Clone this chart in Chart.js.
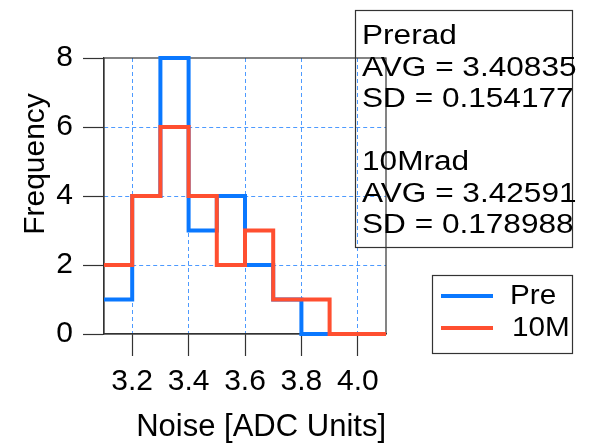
<!DOCTYPE html>
<html>
<head>
<meta charset="utf-8">
<script src="https://cdn.jsdelivr.net/npm/chart.js@4.4.1/dist/chart.umd.min.js"></script>
<style>
  html, body { margin: 0; padding: 0; background: #fff; }
  #wrap { width: 592px; height: 447px; }
</style>
</head>
<body>
<div id="wrap"><canvas id="noise-hist" width="592" height="447"></canvas></div>
<script>
// histogram bins (edges) and counts per bin
var binEdges = [3.1, 3.2, 3.3, 3.4, 3.5, 3.6, 3.7, 3.8, 3.9, 4.0, 4.1];
var preCounts = [1, 4, 8, 3, 4, 2, 1, 0, 0, 0];
var radCounts = [2, 4, 6, 4, 2, 3, 1, 1, 0, 0];
var xTicks = [3.2, 3.4, 3.6, 3.8, 4.0];
var yTicks = [0, 2, 4, 6, 8];
var seriesNames = ['Pre', '10M'];
var statLines = ['Prerad', 'AVG = 3.40835', 'SD = 0.154177', '', '10Mrad', 'AVG = 3.42591', 'SD = 0.178988'];

var FONT = '"Liberation Sans", Arial, Helvetica, sans-serif';
var blue = '#0a78ff';
var red = '#ff4f30';
var frameColor = '#333';
var gridBlue = '#4d9aff';

function stepPoints(counts){
    var pts = [];
    for (var i = 0; i < counts.length; i++) {
        pts.push({x: binEdges[i], y: counts[i]});
    }
    pts.push({x: binEdges[binEdges.length - 1], y: counts[counts.length - 1]});
    return pts;
}

// text a bit wider than the font, like the original
function wideText(ctx, text, x, y, sx){
    ctx.save();
    ctx.translate(x, y);
    ctx.scale(sx, 1);
    ctx.fillText(text, 0, 0);
    ctx.restore();
}

var extras = {
    id: 'extras',
    beforeDatasetsDraw: function(chart){
        var ctx = chart.ctx, a = chart.chartArea;
        ctx.save();
        ctx.strokeStyle = frameColor;
        ctx.lineWidth = 1.2;
        ctx.strokeRect(a.left, a.top, a.right - a.left, a.bottom - a.top);
        ctx.restore();
    },
    afterDraw: function(chart){
        var ctx = chart.ctx;
        ctx.save();
        ctx.fillStyle = '#000';
        ctx.font = '30px ' + FONT;

        // y title
        ctx.save();
        ctx.translate(44, 164);
        ctx.rotate(-Math.PI / 2);
        ctx.textAlign = 'center';
        ctx.textBaseline = 'alphabetic';
        ctx.fillText('Frequency', 0, 0);
        ctx.restore();

        // stats box
        ctx.strokeStyle = frameColor;
        ctx.lineWidth = 1.2;
        ctx.strokeRect(355.5, 10.5, 217, 237);
        ctx.textAlign = 'left';
        ctx.textBaseline = 'alphabetic';
        ctx.font = '27px ' + FONT;
        statLines.forEach(function(t, i){
            if (t) wideText(ctx, t, 362, 44 + i * 31.5, 1.17);
        });

        // legend box
        ctx.strokeRect(432.5, 275.5, 140, 78);
        chart.data.datasets.forEach(function(ds, i){
            var y = 296 + i * 32;
            ctx.strokeStyle = ds.borderColor;
            ctx.lineWidth = 4;
            ctx.beginPath();
            ctx.moveTo(441, y);
            ctx.lineTo(493, y);
            ctx.stroke();
            ctx.textBaseline = 'middle';
            wideText(ctx, ds.label, 510 + i * 2, y + 1, 1.1);
        });
        ctx.restore();
    }
};

new Chart(document.getElementById('noise-hist'), {
    type: 'line',
    data: {
        datasets: [
        {
            label: seriesNames[0],
            data: stepPoints(preCounts),
            borderColor: blue,
            borderWidth: 4,
            stepped: 'before',
            pointRadius: 0,
            clip: false,
            order: 1,
            borderJoinStyle: 'miter'
        },
        {
            label: seriesNames[1],
            data: stepPoints(radCounts),
            borderColor: red,
            borderWidth: 4,
            stepped: 'before',
            pointRadius: 0,
            clip: false,
            order: 0,
            borderJoinStyle: 'miter'
        }]
    },
    options: {
        responsive: false,
        animation: false,
        layout: { padding: { top: 58, right: 206, left: 0, bottom: 0 } },
        plugins: {
            legend: { display: false },
            tooltip: { enabled: false }
        },
        scales: {
            x: {
                type: 'linear',
                min: 3.1,
                max: 4.1,
                afterBuildTicks: function(scale){
                    scale.ticks = xTicks.map(function(v){ return {value: v}; });
                },
                afterFit: function(scale){ scale.height = 113; },
                ticks: {
                    color: '#000',
                    font: { family: FONT, size: 30 },
                    padding: 8,
                    maxRotation: 0,
                    autoSkip: false,
                    callback: function(v){ return Number(v).toFixed(1); }
                },
                grid: {
                    color: gridBlue,
                    lineWidth: 1,
                    tickLength: 22,
                    tickColor: frameColor,
                    tickBorderDash: [],
                    tickWidth: 1.2
                },
                border: { color: frameColor, width: 1.2, dash: [4, 3] },
                title: {
                    display: true,
                    text: 'Noise [ADC Units]',
                    align: 'end',
                    color: '#000',
                    font: { family: FONT, size: 31 },
                    padding: { top: 0, bottom: 1 }
                }
            },
            y: {
                min: 0,
                max: 8,
                afterBuildTicks: function(scale){
                    scale.ticks = yTicks.map(function(v){ return {value: v}; });
                },
                afterFit: function(scale){ scale.width = 104; },
                ticks: {
                    color: '#000',
                    font: { family: FONT, size: 30 },
                    padding: 10
                },
                grid: {
                    color: function(c){
                        var v = c.tick ? c.tick.value : null;
                        return (v === 0 || v === 8) ? 'rgba(0,0,0,0)' : gridBlue;
                    },
                    lineWidth: 1,
                    tickLength: 21,
                    tickColor: frameColor,
                    tickBorderDash: [],
                    tickWidth: 1.2
                },
                border: { color: frameColor, width: 1.2, dash: [4, 3] }
            }
        }
    },
    plugins: [extras]
});
</script>
</body>
</html>
